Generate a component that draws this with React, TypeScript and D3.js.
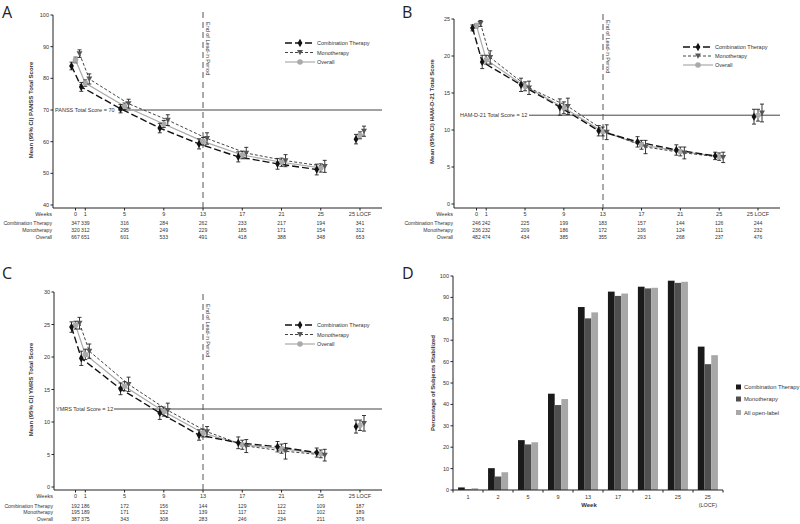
import React from "react";
import * as d3 from "d3";

// ---------- shared x categories (line panels) ----------
const weekPos = [0, 1, 5, 9, 13, 17, 21, 25, 29];
const weekLabels = ["0", "1", "5", "9", "13", "17", "21", "25", "25 LOCF"];
const seriesNames = ["Combination Therapy", "Monotherapy", "Overall"];

// ---------- Panel A: PANSS ----------
const aCombo = [83.9, 77.3, 70.4, 64.3, 59.3, 55.2, 53.0, 51.2, 60.8];
const aOverall = [85.8, 78.5, 71.2, 65.6, 60.1, 55.8, 53.5, 51.7, 62.0];
const aMono = [87.8, 79.8, 72.0, 66.8, 61.0, 56.4, 54.0, 52.2, 63.3];
const aComboCI = [1.2, 1.4, 1.3, 1.5, 1.6, 1.6, 1.7, 1.7, 1.5];
const aOverallCI = [0.9, 1.0, 1.0, 1.1, 1.2, 1.2, 1.3, 1.3, 1.1];
const aMonoCI = [1.2, 1.6, 1.4, 1.7, 1.8, 1.8, 1.9, 1.9, 1.6];
const aNCombo = [347, 339, 316, 284, 262, 233, 217, 194, 341];
const aNMono = [320, 312, 295, 249, 229, 185, 171, 154, 312];
const aNOverall = [667, 651, 601, 533, 491, 418, 388, 348, 653];
const aTicks = [40, 50, 60, 70, 80, 90, 100];

// ---------- Panel B: HAM-D-21 ----------
const bCombo = [23.8, 19.2, 16.1, 13.1, 9.9, 8.4, 7.3, 6.5, 11.8];
const bOverall = [24.1, 19.5, 15.9, 13.0, 9.8, 8.0, 7.1, 6.4, 12.0];
const bMono = [24.4, 19.8, 15.7, 13.2, 9.7, 7.7, 6.9, 6.3, 12.3];
const bComboCI = [0.4, 0.9, 0.9, 1.1, 0.7, 0.7, 0.7, 0.5, 1.0];
const bOverallCI = [0.3, 0.6, 0.6, 0.8, 0.6, 0.6, 0.6, 0.5, 0.8];
const bMonoCI = [0.4, 0.9, 0.9, 1.1, 1.0, 0.9, 0.8, 0.7, 1.2];
const bNCombo = [246, 242, 225, 199, 183, 157, 144, 126, 244];
const bNMono = [236, 232, 209, 186, 172, 136, 124, 111, 232];
const bNOverall = [482, 474, 434, 385, 355, 293, 268, 237, 476];
const bTicks = [0, 5, 10, 15, 20, 25];

// ---------- Panel C: YMRS ----------
const cCombo = [24.6, 19.8, 15.1, 11.4, 8.0, 6.8, 6.2, 5.3, 9.3];
const cOverall = [24.9, 20.4, 15.5, 11.6, 8.3, 6.5, 5.9, 5.1, 9.5];
const cMono = [25.2, 20.9, 15.8, 11.8, 8.5, 6.3, 5.5, 4.9, 9.8];
const cComboCI = [0.8, 1.1, 0.9, 1.0, 0.8, 0.9, 0.8, 0.7, 1.0];
const cOverallCI = [0.6, 0.8, 0.7, 0.7, 0.6, 0.7, 0.7, 0.6, 0.8];
const cMonoCI = [0.9, 1.1, 1.1, 1.1, 0.8, 1.0, 1.2, 0.9, 1.2];
const cNCombo = [192, 186, 172, 156, 144, 129, 122, 109, 187];
const cNMono = [195, 189, 171, 152, 139, 117, 112, 102, 189];
const cNOverall = [387, 375, 343, 308, 283, 246, 234, 211, 376];
const cTicks = [0, 5, 10, 15, 20, 25, 30];

// ---------- Panel D: stabilized ----------
const dWeeks = ["1", "2", "5", "9", "13", "17", "21", "25", "25"];
const dCombo = [1.2, 10.2, 23.3, 45.0, 85.5, 92.7, 95.0, 97.8, 67.0];
const dMono = [0.3, 6.3, 21.3, 39.7, 80.2, 90.7, 94.2, 96.8, 58.8];
const dAll = [0.8, 8.3, 22.3, 42.5, 83.0, 91.8, 94.5, 97.3, 63.0];
const dSeriesNames = ["Combination Therapy", "Monotherapy", "All open-label"];
const dTicks = [0, 10, 20, 30, 40, 50, 60, 70, 80, 90, 100];

const FONT = "'Liberation Sans', Arial, sans-serif";
const TXT = "#333";

type Cfg = {
  ox: number;
  yAxisX: number;
  xRange: [number, number];
  yDomain: [number, number];
  yRange: [number, number];
  axisY: number;
  axisEnd: number;
  yTop: number;
  ticks: number[];
  yLabel: string;
  yLabelX: number;
  refVal: number;
  refText: string;
  refTextX: number;
  refLineStart: number;
  dashX: number;
  dashTop: number;
  leadTextY: number;
  legendX: number;
  legendY: number;
  legendGap: number;
  tableY: number[];
  letter: string;
  letterY: number;
  combo: number[]; overall: number[]; mono: number[];
  comboCI: number[]; overallCI: number[]; monoCI: number[];
  nCombo: number[]; nMono: number[]; nOverall: number[];
};

function Diamond({ x, y }: { x: number; y: number }) {
  return <path d={d3.symbol(d3.symbolDiamond, 20)() as string} transform={`translate(${x},${y})`} fill="#111" />;
}
function TriDown({ x, y }: { x: number; y: number }) {
  return <path d={`M${x - 3},${y - 2.4}L${x + 3},${y - 2.4}L${x},${y + 2.8}Z`} fill="#555" />;
}
function Dot({ x, y }: { x: number; y: number }) {
  return <circle cx={x} cy={y} r={2.8} fill="#aaa" />;
}

const styles = [
  { stroke: "#111", width: 1.4, dash: "7,3", off: -4, M: Diamond },
  { stroke: "#444", width: 1.0, dash: "3,2", off: 4, M: TriDown },
  { stroke: "#aaa", width: 1.2, dash: "", off: 0, M: Dot },
];

function LinePanel({ c }: { c: Cfg }) {
  const x = d3.scaleLinear().domain([0, 29]).range(c.xRange);
  const y = d3.scaleLinear().domain(c.yDomain).range(c.yRange);
  const series = [
    { v: c.combo, ci: c.comboCI, s: styles[0] },
    { v: c.mono, ci: c.monoCI, s: styles[1] },
    { v: c.overall, ci: c.overallCI, s: styles[2] },
  ];
  const drawOrder = [series[2], series[1], series[0]];
  const line = (vals: number[], off: number) =>
    d3.line<number>().x((_, i) => x(weekPos[i]) + off).y((d) => y(d))(vals.slice(0, 8)) as string;
  const refY = y(c.refVal);
  const rows = [c.nCombo, c.nMono, c.nOverall];
  const legendLen = 30;
  const TF = 5.1;
  return (
    <g fontFamily={FONT}>
      <text x={c.ox + 2} y={c.letterY} fontSize={16} fill="#222" fontFamily="'Open Sans', sans-serif">{c.letter}</text>
      <line x1={c.yAxisX} x2={c.yAxisX} y1={c.yTop} y2={c.axisY} stroke="#222" strokeWidth={1} />
      {c.ticks.map((t) => (
        <g key={t}>
          <line x1={c.yAxisX - 2.5} x2={c.yAxisX} y1={y(t)} y2={y(t)} stroke="#222" />
          <text x={c.yAxisX - 4} y={y(t) + 2} fontSize={5.5} textAnchor="end" fill={TXT}>{t}</text>
        </g>
      ))}
      <text transform={`translate(${c.yLabelX},${(c.yRange[0] + c.yRange[1]) / 2}) rotate(-90)`} fontSize={6} fontWeight="bold" textAnchor="middle" fill={TXT}>{c.yLabel}</text>
      <line x1={c.yAxisX} x2={c.axisEnd} y1={c.axisY} y2={c.axisY} stroke="#222" strokeWidth={1} />
      {weekPos.map((w, i) => (
        <g key={i}>
          <line x1={x(w)} x2={x(w)} y1={c.axisY} y2={c.axisY + 2.5} stroke="#222" />
          <text x={x(w)} y={c.tableY[0]} fontSize={5.5} textAnchor="middle" fill={TXT}>{weekLabels[i]}</text>
          {rows.map((r, j) => (
            <text key={j} x={x(w)} y={c.tableY[j + 1]} fontSize={TF} textAnchor="middle" fill={TXT}>{r[i]}</text>
          ))}
        </g>
      ))}
      <text x={c.yAxisX - 1} y={c.tableY[0]} fontSize={5.5} textAnchor="end" fill={TXT}>Weeks</text>
      {seriesNames.map((n, j) => (
        <text key={n} x={c.yAxisX - 1} y={c.tableY[j + 1]} fontSize={TF} textAnchor="end" fill={TXT}>{n}</text>
      ))}
      <line x1={c.refLineStart} x2={c.axisEnd} y1={refY} y2={refY} stroke="#444" strokeWidth={1} />
      <text x={c.refTextX} y={refY + 2} fontSize={5.5} fill={TXT}>{c.refText}</text>
      <line x1={c.dashX} x2={c.dashX} y1={c.dashTop} y2={c.axisY} stroke="#555" strokeWidth={1} strokeDasharray="6,4" />
      <text transform={`translate(${c.dashX + 2.5},${c.leadTextY}) rotate(90)`} fontSize={5.5} fill={TXT}>End of Lead-in Period</text>
      {drawOrder.map((sr, k) => (
        <path key={k} d={line(sr.v, sr.s.off)} fill="none" stroke={sr.s.stroke} strokeWidth={sr.s.width} strokeDasharray={sr.s.dash || undefined} />
      ))}
      {drawOrder.map((sr, k) => (
        <g key={k}>
          {sr.v.map((v, i) => {
            const px = x(weekPos[i]) + sr.s.off;
            const y1 = y(v - sr.ci[i]);
            const y2 = y(v + sr.ci[i]);
            const M = sr.s.M;
            return (
              <g key={i}>
                <line x1={px} x2={px} y1={y1} y2={y2} stroke="#222" strokeWidth={0.9} />
                <line x1={px - 2} x2={px + 2} y1={y1} y2={y1} stroke="#222" strokeWidth={0.9} />
                <line x1={px - 2} x2={px + 2} y1={y2} y2={y2} stroke="#222" strokeWidth={0.9} />
                <M x={px} y={y(v)} />
              </g>
            );
          })}
        </g>
      ))}
      {[0, 1, 2].map((j) => {
        const s = styles[j];
        const ly = c.legendY + j * c.legendGap;
        const M = s.M;
        return (
          <g key={j}>
            <line x1={c.legendX} x2={c.legendX + legendLen} y1={ly} y2={ly} stroke={s.stroke} strokeWidth={s.width} strokeDasharray={s.dash || undefined} />
            <M x={c.legendX + legendLen / 2} y={ly} />
            <text x={c.legendX + legendLen + 2} y={ly + 2} fontSize={5.5} fill={TXT}>{seriesNames[j]}</text>
          </g>
        );
      })}
    </g>
  );
}

const cfgA: Cfg = {
  ox: 0, yAxisX: 53, xRange: [75.5, 360], yDomain: [40, 100], yRange: [205, 15], axisY: 208, axisEnd: 382, yTop: 15,
  ticks: aTicks, yLabel: "Mean (95% CI) PANSS Total Score", yLabelX: 33, refVal: 70, refText: "PANSS Total Score = 70", refTextX: 55,
  refLineStart: 118, dashX: 203, dashTop: 12, leadTextY: 22, legendX: 285, legendY: 43, legendGap: 9.5, tableY: [216, 225, 232, 239],
  letter: "A", letterY: 18,
  combo: aCombo, overall: aOverall, mono: aMono, comboCI: aComboCI, overallCI: aOverallCI, monoCI: aMonoCI,
  nCombo: aNCombo, nMono: aNMono, nOverall: aNOverall,
};
const cfgB: Cfg = {
  ox: 400, yAxisX: 454, xRange: [476.5, 758], yDomain: [0, 25], yRange: [204, 19], axisY: 208, axisEnd: 780, yTop: 19,
  ticks: bTicks, yLabel: "Mean (95% CI) HAM-D-21 Total Score", yLabelX: 434, refVal: 12, refText: "HAM-D-21 Total Score = 12", refTextX: 460,
  refLineStart: 529, dashX: 603, dashTop: 14, leadTextY: 20, legendX: 683, legendY: 47, legendGap: 9, tableY: [216, 225, 232, 239],
  letter: "B", letterY: 18,
  combo: bCombo, overall: bOverall, mono: bMono, comboCI: bComboCI, overallCI: bOverallCI, monoCI: bMonoCI,
  nCombo: bNCombo, nMono: bNMono, nOverall: bNOverall,
};
const cfgC: Cfg = {
  ox: 0, yAxisX: 54, xRange: [75.5, 360], yDomain: [0, 30], yRange: [487, 292], axisY: 490, axisEnd: 382, yTop: 292,
  ticks: cTicks, yLabel: "Mean (95% CI) YMRS Total Score", yLabelX: 33, refVal: 12, refText: "YMRS Total Score = 12", refTextX: 56,
  refLineStart: 114, dashX: 203, dashTop: 294, leadTextY: 304, legendX: 285, legendY: 325, legendGap: 9.5, tableY: [498, 508, 514, 521],
  letter: "C", letterY: 279,
  combo: cCombo, overall: cOverall, mono: cMono, comboCI: cComboCI, overallCI: cOverallCI, monoCI: cMonoCI,
  nCombo: cNCombo, nMono: cNMono, nOverall: cNOverall,
};

function BarPanel() {
  const x0 = d3.scaleBand<number>().domain(d3.range(dWeeks.length)).range([453, 723]).paddingInner(0.33).paddingOuter(0.17);
  const x1 = d3.scaleBand<number>().domain([0, 1, 2]).range([0, x0.bandwidth()]);
  const y = d3.scaleLinear().domain([0, 100]).range([490, 276]);
  const colors = ["#1a1a1a", "#4f4f4f", "#a8a8a8"];
  const data = [dCombo, dMono, dAll];
  const step = 270 / dWeeks.length;
  return (
    <g fontFamily={FONT}>
      <text x={402} y={279} fontSize={16} fill="#222" fontFamily="'Open Sans', sans-serif">D</text>
      {data.map((vals, s) =>
        vals.map((v, i) => (
          <rect key={`${s}-${i}`} x={(x0(i) as number) + (x1(s) as number)} width={x1.bandwidth()} y={y(v)} height={490 - y(v)} fill={colors[s]} />
        ))
      )}
      <line x1={453} x2={453} y1={276} y2={490} stroke="#222" />
      {dTicks.map((t) => (
        <g key={t}>
          <line x1={450.5} x2={453} y1={y(t)} y2={y(t)} stroke="#222" />
          <text x={449} y={y(t) + 2} fontSize={5.5} textAnchor="end" fill={TXT}>{t}</text>
        </g>
      ))}
      <line x1={453} x2={723} y1={490} y2={490} stroke="#222" />
      {d3.range(dWeeks.length + 1).map((i) => (
        <line key={i} x1={453 + i * step} x2={453 + i * step} y1={490} y2={492.5} stroke="#222" />
      ))}
      {dWeeks.map((w, i) => (
        <text key={i} x={(x0(i) as number) + x0.bandwidth() / 2} y={499} fontSize={5.5} textAnchor="middle" fill={TXT}>{w}</text>
      ))}
      <text x={(x0(8) as number) + x0.bandwidth() / 2} y={507} fontSize={5.5} textAnchor="middle" fill={TXT}>(LOCF)</text>
      <text x={589} y={507} fontSize={6} fontWeight="bold" textAnchor="middle" fill={TXT}>Week</text>
      <text transform={`translate(435,383) rotate(-90)`} fontSize={6} fontWeight="bold" textAnchor="middle" fill={TXT}>Percentage of Subjects Stabilized</text>
      {dSeriesNames.map((n, s) => (
        <g key={n}>
          <rect x={736} y={[384.5, 396.5, 410][s]} width={5} height={5} fill={colors[s]} />
          <text x={744} y={[389.2, 401.2, 414.7][s]} fontSize={5.8} fill={TXT}>{n}</text>
        </g>
      ))}
    </g>
  );
}

export default function App() {
  return (
    <svg width={800} height={524} style={{ position: "absolute", left: 0, top: 0, background: "#fff" }}>
      <rect width={800} height={524} fill="#fff" />
      <LinePanel c={cfgA} />
      <LinePanel c={cfgB} />
      <LinePanel c={cfgC} />
      <BarPanel />
    </svg>
  );
}
